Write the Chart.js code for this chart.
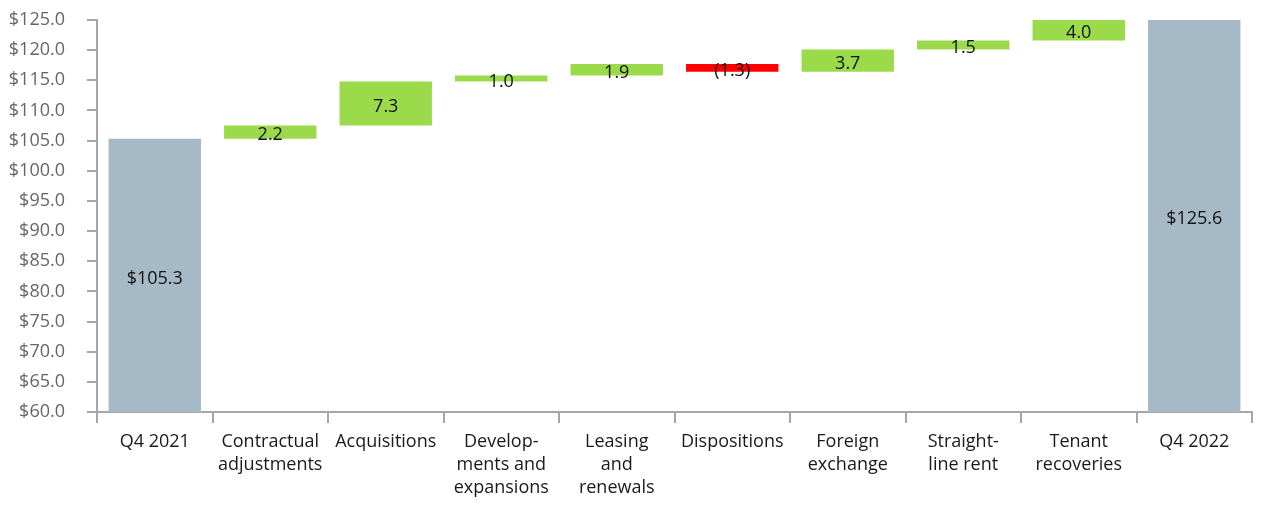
<!DOCTYPE html>
<html>
<head>
<meta charset="utf-8">
<script src="https://cdn.jsdelivr.net/npm/chart.js@4.4.0/dist/chart.umd.min.js"></script>
<style>
html,body{margin:0;padding:0;background:#fff;}
#wrap{width:1270px;height:514px;position:relative;}
</style>
</head>
<body>
<div id="wrap"><canvas id="c"></canvas></div>
<script>
const categories = [
  "Q4 2021",
  ["Contractual","adjustments"],
  "Acquisitions",
  ["Develop-","ments and","expansions"],
  ["Leasing","and","renewals"],
  "Dispositions",
  ["Foreign","exchange"],
  ["Straight-","line rent"],
  ["Tenant","recoveries"],
  "Q4 2022"
];
const startTotal = 105.3;
const endTotal = 125.6;
const changes = [2.2, 7.3, 1.0, 1.9, -1.3, 3.7, 1.5, 4.0];
const axisMin = 60;
const axisMax = 125;
const yTickStep = 5;

const colTotal = "#A5B9C6";
const colUp = "#9BDA4A";
const colDown = "#FF0000";

const ranges = [];
const labels = [];
const colors = [];
ranges.push([axisMin, startTotal]); labels.push("$" + startTotal.toFixed(1)); colors.push(colTotal);
let run = startTotal;
changes.forEach(d => {
  const next = Math.round((run + d) * 10) / 10;
  ranges.push([run, next]);
  labels.push(d < 0 ? "(" + Math.abs(d).toFixed(1) + ")" : d.toFixed(1));
  colors.push(d < 0 ? colDown : colUp);
  run = next;
});
ranges.push([axisMin, endTotal]); labels.push("$" + endTotal.toFixed(1)); colors.push(colTotal);

const FONT = "'Open Sans'";

const labelPlugin = {
  id: "barLabels",
  afterDatasetsDraw(chart) {
    const ctx = chart.ctx;
    const meta = chart.getDatasetMeta(0);
    const y = chart.scales.y;
    ctx.save();
    ctx.font = "18px " + FONT;
    ctx.fillStyle = "#111";
    ctx.textAlign = "center";
    ctx.textBaseline = "middle";
    meta.data.forEach((bar, i) => {
      const r = ranges[i];
      const lo = Math.max(Math.min(r[0], r[1]), axisMin);
      const hi = Math.min(Math.max(r[0], r[1]), axisMax);
      const py = (y.getPixelForValue(lo) + y.getPixelForValue(hi)) / 2 + 3;
      ctx.fillText(labels[i], bar.x, py);
    });
    ctx.restore();
  }
};

new Chart(document.getElementById("c"), {
  type: "bar",
  data: {
    labels: categories,
    datasets: [{
      data: ranges,
      backgroundColor: colors,
      borderWidth: 0,
      barPercentage: 0.8,
      categoryPercentage: 1.0
    }]
  },
  options: {
    responsive: true,
    maintainAspectRatio: false,
    animation: false,
    layout: { padding: { top: 20, right: 18, left: 0, bottom: 0 } },
    plugins: { legend: { display: false }, tooltip: { enabled: false } },
    scales: {
      x: {
        offset: true,
        grid: { offset: true, drawOnChartArea: false, drawTicks: true, tickLength: 11, color: "#A6A6A6", lineWidth: 2 },
        border: { display: true, color: "#A6A6A6", width: 2 },
        ticks: { color: "#1a1a1a", font: { family: FONT, size: 18, lineHeight: 1.28 }, padding: 7, maxRotation: 0, autoSkip: false },
        afterFit(s) { s.height = 102; s.paddingLeft = 0; s.paddingRight = 0; }
      },
      y: {
        min: axisMin,
        max: axisMax,
        grid: { drawOnChartArea: false, drawTicks: true, tickLength: 10, color: "#A6A6A6", lineWidth: 2 },
        border: { display: true, color: "#A6A6A6", width: 2 },
        ticks: {
          stepSize: yTickStep,
          color: "#666",
          font: { family: FONT, size: 18 },
          padding: 22,
          callback: v => "$" + Number(v).toFixed(1)
        },
        afterFit(s) { s.width = 97; s.paddingTop = 0; s.paddingBottom = 0; }
      }
    }
  },
  plugins: [labelPlugin]
});
</script>
</body>
</html>
